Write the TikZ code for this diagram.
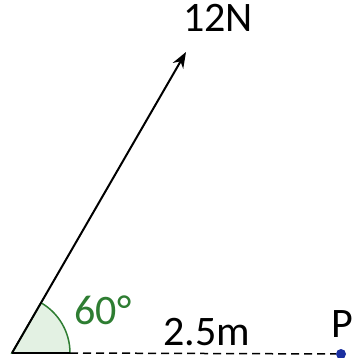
\documentclass[tikz,border=0pt]{standalone}
\usepackage{fontspec}
\setmainfont{Carlito}
\usepackage{xcolor}
\usetikzlibrary{arrows.meta,positioning}
\definecolor{AngleGreen}{HTML}{2E7D32}
\definecolor{AngleFill}{HTML}{E3F1E3}
\definecolor{PointBlue}{HTML}{1A2FA0}
\tikzset{
  lbl/.style={inner sep=0pt,font=\fontsize{42pt}{46pt}\selectfont},
  force/.style={line width=2pt,-{Stealth[length=16pt,width=12pt]}},
}

\begin{document}
\begin{tikzpicture}[x=1pt,y=-1pt]
\useasboundingbox (0,0) rectangle (354,358);
% base point, end of the angle mark and the force tip
\coordinate (O) at (12,353);
\coordinate (A) at (70,353);
\coordinate (F) at (186,52);
\node[circle,fill=PointBlue,inner sep=0pt,minimum size=10pt] (P) at (341,354) {};
% angle mark
\filldraw[fill=AngleFill,draw=AngleGreen,line width=1.5pt] (O) -- (A) arc[start angle=0,end angle=-60,radius=58] -- cycle;
\draw[line width=2pt] (O) -- (A);
\draw[dashed,line width=1.5pt,dash pattern=on 8pt off 5pt] (A) -- (P);
\draw[force] (O) -- (F);
% labels
\node[lbl,anchor=base] (f) at (218,32) {12N};
\node[lbl,anchor=base,text=AngleGreen] (ang) at (103,324) {60°};
\node[lbl,anchor=base] (d) at (207,345) {2.5m};
\node[lbl,anchor=base] (p) at (342,337) {P};
\end{tikzpicture}
\end{document}
